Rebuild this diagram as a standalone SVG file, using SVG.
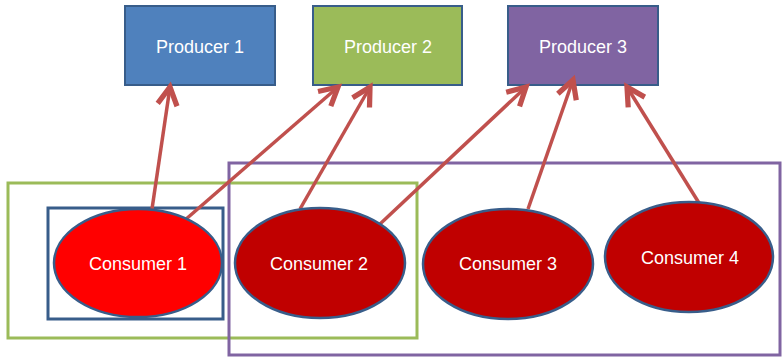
<svg xmlns="http://www.w3.org/2000/svg" width="782" height="357" viewBox="0 0 782 357">
<defs>
<style>
.prod{stroke:#385D8A;stroke-width:2}
.cons{stroke:#385D8A;stroke-width:2.5}
.lbl{font-family:"Liberation Sans",Arial,sans-serif;font-size:18px;fill:#FFFFFF;text-anchor:middle}
.conn{stroke:#C0504D;stroke-width:3.5;fill:none;marker-end:url(#arr)}
.grp{fill:none;stroke-width:3}
</style>
<marker id="arr" markerUnits="userSpaceOnUse" markerWidth="30" markerHeight="30" refX="0" refY="0" viewBox="-16 -10 20 20" orient="auto">
<path d="M-12,-6.5 L0,0 L-12,6.5" fill="none" stroke="#C0504D" stroke-width="3.5" stroke-linejoin="miter"/>
</marker>
</defs>
<rect width="782" height="357" fill="#FFFFFF"/>
<g id="groups">
<rect id="group-green" class="grp" x="8" y="183" width="409" height="155" stroke="#9BBB59"/>
<rect id="group-purple" class="grp" x="229" y="163" width="551" height="192" stroke="#8064A2"/>
<rect id="group-blue" class="grp" x="48" y="208" width="175" height="111" stroke="#385D8A"/>
</g>
<g id="producer1"><rect class="prod" x="125" y="6" width="150" height="79" fill="#4F81BD"/><text class="lbl" x="200" y="53">Producer 1</text></g>
<g id="producer2"><rect class="prod" x="313" y="6" width="149" height="79" fill="#9BBB59"/><text class="lbl" x="388" y="53">Producer 2</text></g>
<g id="producer3"><rect class="prod" x="508" y="6" width="150" height="79" fill="#8064A2"/><text class="lbl" x="583" y="53">Producer 3</text></g>
<g id="connectors">
<line class="conn" x1="152" y1="209" x2="170" y2="87"/>
<line class="conn" x1="185" y1="220" x2="338" y2="87"/>
<line class="conn" x1="300" y1="209" x2="370" y2="87"/>
<line class="conn" x1="380" y1="224" x2="526" y2="87"/>
<line class="conn" x1="528" y1="209" x2="573" y2="80"/>
<line class="conn" x1="699" y1="203" x2="627" y2="87"/>
</g>
<g id="consumer1"><ellipse class="cons" cx="138" cy="263" rx="84" ry="54" fill="#FF0000"/><text class="lbl" x="138" y="270">Consumer 1</text></g>
<g id="consumer2"><ellipse class="cons" cx="320" cy="263" rx="85" ry="55" fill="#C00000"/><text class="lbl" x="319" y="270">Consumer 2</text></g>
<g id="consumer3"><ellipse class="cons" cx="508" cy="264" rx="85" ry="55" fill="#C00000"/><text class="lbl" x="508" y="270">Consumer 3</text></g>
<g id="consumer4"><ellipse class="cons" cx="689" cy="257" rx="84" ry="55" fill="#C00000"/><text class="lbl" x="690" y="264">Consumer 4</text></g>
</svg>
